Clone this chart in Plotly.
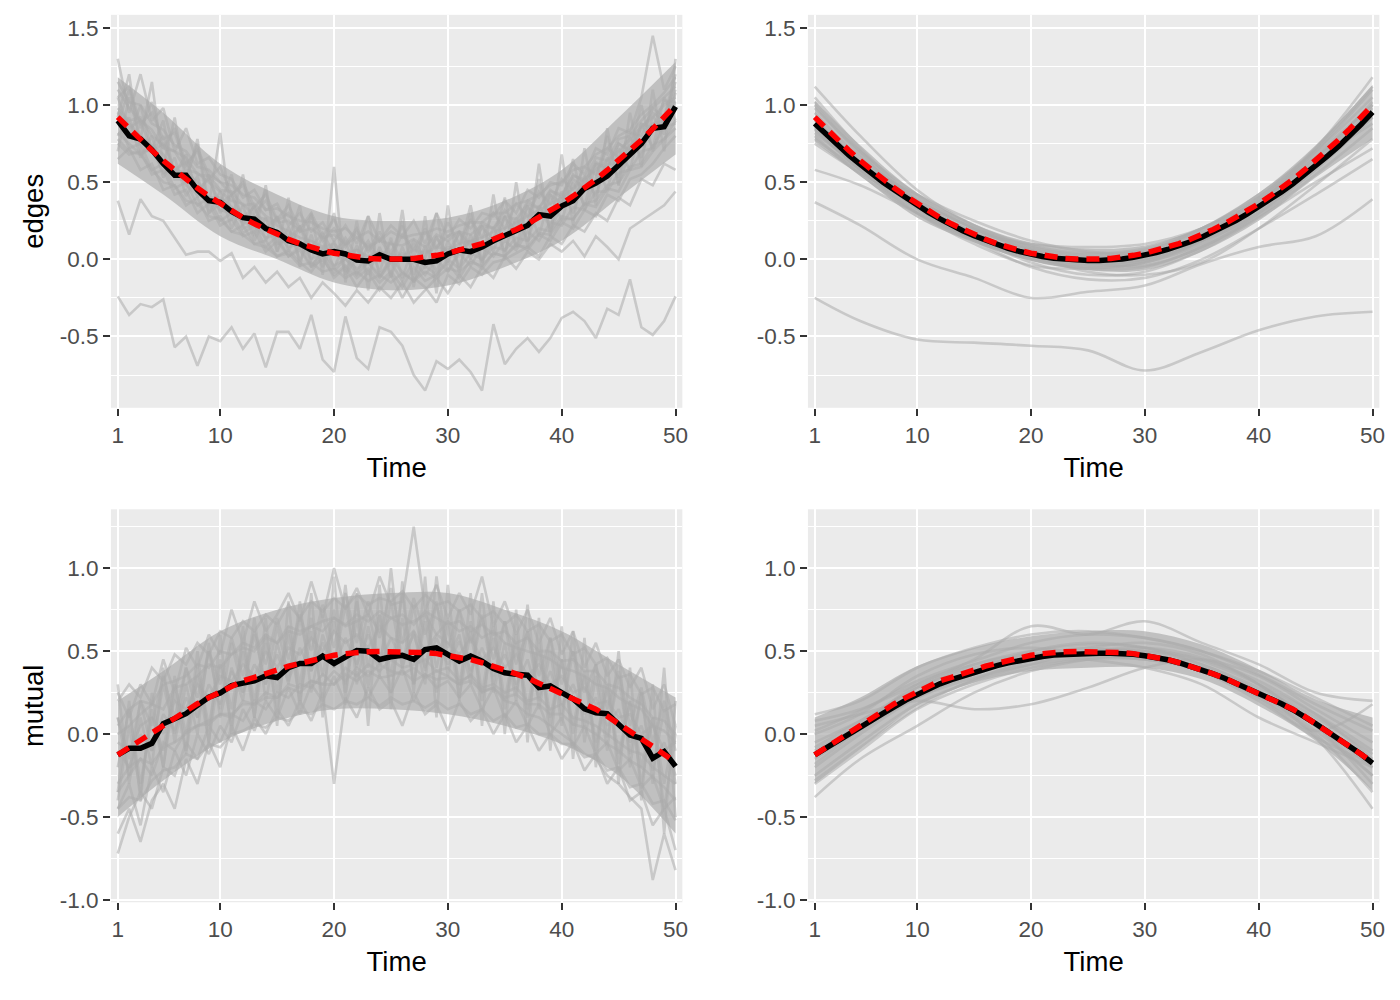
import plotly.graph_objects as go

# ---------------- data ----------------
time = list(range(1, 51))
knots = [1, 5, 10, 15, 20, 25, 30, 35, 40, 45, 50]
x_ticks = [1, 10, 20, 30, 40, 50]
y_ticks_top = [-0.5, 0.0, 0.5, 1.0, 1.5]
y_ticklabels_top = ["-0.5", "0.0", "0.5", "1.0", "1.5"]
y_ticks_bottom = [-1.0, -0.5, 0.0, 0.5, 1.0]
y_ticklabels_bottom = ["-1.0", "-0.5", "0.0", "0.5", "1.0"]
row_labels = ["edges", "mutual"]

# true (red dashed) curves
edges_true = [0.922, 0.846, 0.774, 0.706, 0.640, 0.578, 0.518, 0.462, 0.410, 0.360,
              0.314, 0.270, 0.230, 0.194, 0.160, 0.130, 0.102, 0.078, 0.058, 0.040,
              0.026, 0.014, 0.006, 0.002, 0.000, 0.002, 0.006, 0.014, 0.026, 0.040,
              0.058, 0.078, 0.102, 0.130, 0.160, 0.194, 0.230, 0.270, 0.314, 0.360,
              0.410, 0.462, 0.518, 0.578, 0.640, 0.706, 0.774, 0.846, 0.922, 1.000]
mutual_true = [-0.125, -0.08, -0.04, 0.005, 0.05, 0.095, 0.138, 0.183, 0.22, 0.252,
               0.288, 0.321, 0.342, 0.361, 0.386, 0.41, 0.428, 0.447, 0.461, 0.475,
               0.485, 0.493, 0.496, 0.498, 0.498, 0.497, 0.494, 0.491, 0.485, 0.474,
               0.462, 0.449, 0.43, 0.41, 0.388, 0.363, 0.337, 0.306, 0.278, 0.25,
               0.22, 0.186, 0.15, 0.108, 0.06, 0.01, -0.03, -0.075, -0.12, -0.17]

# estimated mean (black) curves
edges_raw_mean = [0.90, 0.80, 0.78, 0.71, 0.62, 0.545, 0.545, 0.45, 0.38, 0.37,
                  0.31, 0.27, 0.26, 0.20, 0.175, 0.12, 0.10, 0.06, 0.035, 0.05,
                  0.035, -0.005, -0.01, 0.03, 0.0, 0.0, 0.0, -0.02, -0.01, 0.035,
                  0.06, 0.05, 0.08, 0.12, 0.155, 0.19, 0.22, 0.29, 0.28, 0.345,
                  0.38, 0.46, 0.495, 0.54, 0.61, 0.69, 0.75, 0.85, 0.86, 0.99]
edges_smooth_mean = [0.88, 0.81, 0.74, 0.675, 0.615, 0.555, 0.50, 0.45, 0.40, 0.35,
                     0.305, 0.262, 0.222, 0.186, 0.153, 0.123, 0.095, 0.071, 0.051, 0.033,
                     0.019, 0.007, -0.001, -0.006, -0.008, -0.008, -0.005, 0.002, 0.013, 0.027,
                     0.044, 0.064, 0.087, 0.114, 0.144, 0.177, 0.213, 0.252, 0.294, 0.339,
                     0.387, 0.437, 0.490, 0.546, 0.605, 0.667, 0.732, 0.80, 0.875, 0.955]
mutual_raw_mean = [-0.125, -0.086, -0.086, -0.056, 0.063, 0.097, 0.123, 0.173, 0.222, 0.248,
                   0.292, 0.307, 0.321, 0.351, 0.341, 0.40, 0.426, 0.426, 0.47, 0.426,
                   0.466, 0.504, 0.50, 0.45, 0.466, 0.475, 0.45, 0.51, 0.52, 0.48,
                   0.44, 0.47, 0.44, 0.395, 0.37, 0.36, 0.355, 0.28, 0.29, 0.25,
                   0.212, 0.152, 0.129, 0.123, 0.064, -0.006, -0.026, -0.145, -0.105, -0.195]
mutual_smooth_mean = [-0.125, -0.085, -0.045, -0.005, 0.04, 0.083, 0.125, 0.168, 0.205, 0.238,
                      0.272, 0.303, 0.328, 0.35, 0.373, 0.395, 0.413, 0.43, 0.445, 0.458,
                      0.468, 0.476, 0.481, 0.485, 0.487, 0.488, 0.488, 0.486, 0.481, 0.472,
                      0.461, 0.448, 0.43, 0.41, 0.388, 0.363, 0.337, 0.308, 0.279, 0.249,
                      0.217, 0.183, 0.147, 0.107, 0.063, 0.017, -0.028, -0.075, -0.122, -0.175]

# dense core of the overlapping gray series (read at the knots): lower / upper edge
edges_raw_core_lo = [0.62, 0.42, 0.15, 0.00, -0.15, -0.20, -0.17, -0.05, 0.12, 0.40, 0.68]
edges_raw_core_hi = [1.18, 0.95, 0.62, 0.42, 0.28, 0.25, 0.27, 0.38, 0.58, 0.92, 1.28]
edges_smooth_core_lo = [0.76, 0.54, 0.27, 0.11, -0.01, -0.07, -0.07, 0.05, 0.25, 0.53, 0.78]
edges_smooth_core_hi = [1.03, 0.74, 0.43, 0.23, 0.11, 0.07, 0.09, 0.21, 0.43, 0.74, 1.13]
mutual_raw_core_lo = [-0.50, -0.28, -0.05, 0.08, 0.15, 0.15, 0.12, 0.05, -0.06, -0.25, -0.60]
mutual_raw_core_hi = [0.20, 0.38, 0.62, 0.75, 0.82, 0.85, 0.85, 0.75, 0.62, 0.42, 0.22]
mutual_smooth_core_lo = [-0.30, -0.09, 0.17, 0.31, 0.38, 0.40, 0.40, 0.33, 0.17, -0.04, -0.34]
mutual_smooth_core_hi = [0.10, 0.22, 0.41, 0.52, 0.59, 0.62, 0.62, 0.54, 0.39, 0.21, 0.10]

# individual (gray) series, raw edges (values at every time point)
edges_raw_1 = [1.05, 1.12, 0.88, 0.95, 0.78, 0.82, 0.60, 0.72, 0.55, 0.50,
               0.42, 0.48, 0.30, 0.38, 0.25, 0.30, 0.18, 0.28, 0.12, 0.20,
               0.08, 0.18, 0.05, 0.14, 0.02, 0.16, 0.06, 0.20, 0.08, 0.15,
               0.18, 0.10, 0.24, 0.20, 0.32, 0.22, 0.38, 0.33, 0.45, 0.40,
               0.55, 0.50, 0.62, 0.60, 0.75, 0.70, 0.85, 0.95, 0.90, 1.10]
edges_raw_2 = [0.75, 0.68, 0.70, 0.55, 0.58, 0.42, 0.45, 0.30, 0.36, 0.22,
               0.26, 0.15, 0.18, 0.05, 0.12, 0.02, 0.06, -0.05, 0.00, -0.10,
               -0.04, -0.12, -0.06, -0.15, -0.08, -0.18, -0.05, -0.14, -0.10, -0.02,
               -0.12, 0.00, -0.06, 0.04, 0.02, 0.10, 0.06, 0.16, 0.12, 0.24,
               0.20, 0.32, 0.28, 0.42, 0.38, 0.52, 0.55, 0.62, 0.72, 0.80]
edges_raw_3 = [0.95, 0.80, 1.00, 0.70, 0.80, 0.55, 0.68, 0.40, 0.55, 0.30,
               0.42, 0.22, 0.35, 0.12, 0.28, 0.05, 0.22, 0.00, 0.15, -0.06,
               0.12, -0.10, 0.10, -0.08, 0.14, -0.12, 0.10, -0.06, 0.15, -0.02,
               0.18, 0.00, 0.22, 0.05, 0.28, 0.08, 0.35, 0.15, 0.42, 0.25,
               0.50, 0.35, 0.62, 0.45, 0.72, 0.58, 0.88, 0.72, 1.05, 0.90]
edges_raw_4 = [1.30, 0.95, 1.20, 0.90, 0.98, 0.70, 0.85, 0.62, 0.66, 0.55,
               0.52, 0.40, 0.45, 0.32, 0.36, 0.22, 0.30, 0.18, 0.24, 0.12,
               0.22, 0.10, 0.28, 0.12, 0.22, 0.15, 0.25, 0.10, 0.30, 0.14,
               0.26, 0.20, 0.30, 0.28, 0.38, 0.30, 0.45, 0.40, 0.50, 0.48,
               0.62, 0.55, 0.72, 0.68, 0.85, 0.82, 1.05, 1.45, 1.10, 1.25]
edges_raw_5 = [0.65, 0.72, 0.58, 0.62, 0.45, 0.48, 0.35, 0.40, 0.25, 0.28,
               0.18, 0.22, 0.10, 0.12, 0.02, 0.06, -0.02, -0.08, 0.02, -0.12,
               -0.05, -0.18, -0.08, -0.20, -0.10, -0.25, -0.12, -0.18, -0.28, -0.10,
               -0.16, -0.05, -0.10, -0.02, 0.00, 0.04, 0.08, 0.02, 0.15, 0.10,
               0.22, 0.18, 0.30, 0.25, 0.40, 0.35, 0.52, 0.48, 0.62, 0.58]
edges_raw_6 = [0.88, 1.10, 0.85, 1.02, 0.72, 0.85, 0.62, 0.70, 0.52, 0.60,
               0.42, 0.50, 0.34, 0.42, 0.26, 0.35, 0.20, 0.30, 0.15, 0.26,
               0.10, 0.20, 0.06, 0.18, 0.04, 0.22, 0.02, 0.18, 0.06, 0.24,
               0.10, 0.26, 0.14, 0.30, 0.20, 0.36, 0.28, 0.44, 0.36, 0.52,
               0.45, 0.60, 0.55, 0.72, 0.66, 0.82, 0.80, 0.98, 0.92, 1.15]
edges_raw_7 = [0.82, 0.75, 0.68, 0.72, 0.56, 0.60, 0.48, 0.42, 0.40, 0.32,
               0.30, 0.24, 0.22, 0.14, 0.16, 0.08, 0.10, 0.00, 0.04, -0.04,
               0.00, -0.06, -0.02, -0.10, 0.00, -0.08, -0.14, -0.04, -0.10, 0.00,
               -0.06, 0.04, 0.00, 0.08, 0.06, 0.14, 0.12, 0.20, 0.18, 0.28,
               0.26, 0.36, 0.34, 0.46, 0.44, 0.58, 0.60, 0.70, 0.78, 0.85]
edges_raw_8 = [0.70, 1.05, 0.78, 1.15, 0.60, 0.92, 0.50, 0.78, 0.35, 0.82,
               0.25, 0.55, 0.15, 0.48, 0.05, 0.40, -0.05, 0.30, -0.10, 0.60,
               -0.15, 0.25, -0.20, 0.30, -0.12, 0.32, -0.18, 0.28, -0.22, 0.35,
               -0.10, 0.30, -0.05, 0.42, 0.00, 0.50, 0.08, 0.62, 0.15, 0.68,
               0.22, 0.72, 0.35, 0.85, 0.48, 0.95, 0.60, 1.10, 0.70, 1.30]
edges_raw_9 = [0.98, 0.90, 0.92, 0.80, 0.74, 0.70, 0.58, 0.56, 0.50, 0.44,
               0.38, 0.36, 0.28, 0.26, 0.22, 0.18, 0.14, 0.12, 0.08, 0.10,
               0.04, 0.06, 0.02, 0.05, 0.03, 0.02, 0.06, 0.04, 0.08, 0.06,
               0.10, 0.12, 0.14, 0.18, 0.20, 0.24, 0.28, 0.32, 0.36, 0.40,
               0.46, 0.52, 0.58, 0.64, 0.70, 0.78, 0.86, 0.92, 1.00, 1.05]
edges_raw_10 = [-0.24, -0.36, -0.29, -0.31, -0.26, -0.57, -0.50, -0.69, -0.50, -0.53,
                -0.44, -0.58, -0.48, -0.70, -0.47, -0.47, -0.58, -0.36, -0.65, -0.73,
                -0.37, -0.64, -0.71, -0.44, -0.47, -0.56, -0.75, -0.85, -0.66, -0.71,
                -0.65, -0.73, -0.85, -0.42, -0.68, -0.58, -0.51, -0.60, -0.51, -0.38,
                -0.34, -0.40, -0.51, -0.32, -0.36, -0.13, -0.44, -0.49, -0.40, -0.24]
edges_raw_11 = [0.38, 0.16, 0.39, 0.28, 0.25, 0.14, 0.03, 0.05, 0.05, -0.01,
                0.04, -0.12, -0.05, -0.15, -0.08, -0.18, -0.12, -0.25, -0.15, -0.22,
                -0.30, -0.20, -0.28, -0.18, -0.25, -0.15, -0.28, -0.20, -0.12, -0.22,
                -0.10, -0.18, -0.05, -0.12, 0.02, -0.06, 0.05, 0.00, 0.10, 0.05,
                0.12, 0.02, 0.15, 0.08, 0.00, 0.20, 0.25, 0.30, 0.35, 0.44]
edges_raw_12 = [1.05, 0.85, 0.90, 0.70, 0.75, 0.58, 0.63, 0.45, 0.52, 0.36,
                0.42, 0.27, 0.34, 0.20, 0.27, 0.13, 0.21, 0.08, 0.17, 0.04,
                0.14, 0.02, 0.12, -0.01, 0.11, 0.00, 0.12, 0.01, 0.14, 0.04,
                0.17, 0.08, 0.21, 0.13, 0.27, 0.19, 0.34, 0.27, 0.42, 0.36,
                0.52, 0.46, 0.63, 0.58, 0.75, 0.71, 0.88, 0.85, 1.03, 1.02]
edges_raw_13 = [0.80, 0.92, 0.66, 0.80, 0.53, 0.66, 0.41, 0.54, 0.30, 0.44,
                0.20, 0.35, 0.12, 0.27, 0.05, 0.21, -0.01, 0.16, -0.05, 0.12,
                -0.08, 0.09, -0.10, 0.08, -0.11, 0.08, -0.10, 0.09, -0.08, 0.12,
                -0.05, 0.16, -0.01, 0.21, 0.05, 0.27, 0.12, 0.35, 0.20, 0.44,
                0.30, 0.54, 0.41, 0.66, 0.53, 0.79, 0.66, 0.93, 0.81, 1.08]
edges_raw_14 = [1.10, 0.98, 0.90, 0.84, 0.72, 0.70, 0.66, 0.55, 0.54, 0.45,
                0.44, 0.35, 0.36, 0.28, 0.24, 0.25, 0.18, 0.20, 0.14, 0.16,
                0.10, 0.14, 0.08, 0.12, 0.10, 0.09, 0.13, 0.08, 0.16, 0.12,
                0.18, 0.16, 0.22, 0.20, 0.28, 0.26, 0.36, 0.33, 0.44, 0.42,
                0.54, 0.52, 0.66, 0.64, 0.78, 0.80, 0.90, 0.98, 1.05, 1.12]
edges_raw_15 = [0.78, 0.70, 0.68, 0.58, 0.50, 0.48, 0.38, 0.36, 0.28, 0.26,
                0.18, 0.16, 0.10, 0.08, 0.02, 0.04, -0.04, -0.02, -0.08, -0.06,
                -0.12, -0.08, -0.14, -0.10, -0.15, -0.09, -0.14, -0.08, -0.12, -0.06,
                -0.08, -0.02, -0.04, 0.04, 0.02, 0.09, 0.08, 0.17, 0.16, 0.26,
                0.26, 0.36, 0.38, 0.48, 0.50, 0.60, 0.62, 0.74, 0.78, 0.90]
edges_raw_16 = [0.92, 1.20, 0.70, 0.71, 0.90, 0.52, 0.52, 0.75, 0.30, 0.36,
                0.55, 0.20, 0.23, 0.45, 0.10, 0.13, 0.35, -0.05, 0.06, 0.30,
                -0.10, 0.01, 0.28, -0.12, 0.00, 0.25, -0.15, 0.01, 0.30, -0.08,
                0.06, 0.35, -0.02, 0.13, 0.40, 0.08, 0.23, 0.52, 0.18, 0.36,
                0.65, 0.32, 0.52, 0.80, 0.48, 0.71, 1.00, 0.70, 0.92, 1.20]
edges_raw_17 = [0.96, 0.88, 0.80, 0.74, 0.68, 0.58, 0.56, 0.50, 0.40, 0.40,
                0.34, 0.28, 0.26, 0.20, 0.18, 0.16, 0.10, 0.12, 0.06, 0.08,
                0.02, 0.06, 0.00, 0.05, -0.02, 0.04, 0.00, 0.06, 0.02, 0.08,
                0.05, 0.12, 0.10, 0.14, 0.16, 0.20, 0.22, 0.30, 0.30, 0.38,
                0.40, 0.50, 0.50, 0.62, 0.62, 0.74, 0.76, 0.88, 0.90, 1.02]
edges_raw_18 = [1.15, 1.02, 1.00, 0.88, 0.84, 0.74, 0.70, 0.60, 0.58, 0.50,
                0.48, 0.42, 0.40, 0.32, 0.33, 0.28, 0.25, 0.24, 0.20, 0.18,
                0.20, 0.14, 0.18, 0.12, 0.18, 0.14, 0.16, 0.17, 0.20, 0.18,
                0.22, 0.24, 0.24, 0.30, 0.30, 0.36, 0.38, 0.42, 0.48, 0.50,
                0.58, 0.60, 0.68, 0.72, 0.80, 0.84, 0.94, 1.00, 1.08, 1.18]
edges_raw_19 = [0.90, 0.72, 0.75, 0.58, 0.62, 0.46, 0.50, 0.35, 0.40, 0.25,
                0.30, 0.17, 0.22, 0.08, 0.15, 0.02, 0.08, -0.04, 0.04, -0.08,
                0.01, -0.10, -0.02, -0.12, -0.02, -0.14, -0.01, -0.10, 0.00, -0.08,
                0.04, -0.04, 0.08, 0.02, 0.12, 0.06, 0.18, 0.12, 0.24, 0.22,
                0.34, 0.32, 0.44, 0.44, 0.56, 0.58, 0.70, 0.72, 0.86, 0.88]

# individual smoothed edges (values read at the knots)
edges_smooth_1 = [1.12, 0.80, 0.45, 0.22, 0.08, 0.03, 0.06, 0.18, 0.38, 0.72, 1.18]
edges_smooth_2 = [0.80, 0.55, 0.30, 0.12, 0.00, -0.06, -0.05, 0.08, 0.28, 0.55, 0.85]
edges_smooth_3 = [0.95, 0.66, 0.40, 0.20, 0.06, 0.01, 0.05, 0.20, 0.42, 0.70, 1.05]
edges_smooth_4 = [0.75, 0.56, 0.36, 0.17, 0.03, -0.08, -0.10, -0.02, 0.20, 0.48, 0.78]
edges_smooth_5 = [1.05, 0.72, 0.38, 0.15, 0.02, -0.03, 0.00, 0.12, 0.33, 0.64, 1.02]
edges_smooth_6 = [0.88, 0.62, 0.42, 0.25, 0.12, 0.05, 0.04, 0.12, 0.30, 0.58, 0.92]
edges_smooth_7 = [0.92, 0.63, 0.33, 0.13, 0.03, -0.01, 0.03, 0.16, 0.40, 0.72, 1.12]
edges_smooth_8 = [0.82, 0.60, 0.34, 0.14, -0.02, -0.10, -0.08, 0.06, 0.27, 0.50, 0.72]
edges_smooth_9 = [1.00, 0.68, 0.37, 0.18, 0.10, 0.08, 0.10, 0.20, 0.38, 0.66, 0.95]
edges_smooth_10 = [0.85, 0.58, 0.30, 0.10, -0.04, -0.06, -0.02, 0.10, 0.32, 0.62, 0.98]
edges_smooth_11 = [-0.25, -0.40, -0.52, -0.54, -0.56, -0.59, -0.72, -0.60, -0.46, -0.37, -0.34]
edges_smooth_12 = [0.37, 0.22, 0.00, -0.12, -0.25, -0.21, -0.17, -0.03, 0.08, 0.15, 0.39]
edges_smooth_13 = [0.58, 0.48, 0.30, 0.12, -0.05, -0.13, -0.12, 0.00, 0.20, 0.42, 0.65]
edges_smooth_14 = [0.98, 0.70, 0.42, 0.22, 0.09, 0.04, 0.07, 0.20, 0.40, 0.68, 1.00]
edges_smooth_15 = [0.86, 0.60, 0.34, 0.15, 0.03, -0.02, 0.00, 0.13, 0.34, 0.62, 0.92]
edges_smooth_16 = [0.78, 0.58, 0.38, 0.20, 0.06, -0.02, -0.04, 0.08, 0.30, 0.60, 0.95]
edges_smooth_17 = [1.02, 0.70, 0.36, 0.14, 0.00, -0.05, -0.02, 0.12, 0.36, 0.70, 1.10]
edges_smooth_18 = [0.90, 0.64, 0.38, 0.20, 0.07, 0.02, 0.04, 0.16, 0.37, 0.66, 1.00]
edges_smooth_19 = [0.84, 0.58, 0.32, 0.13, 0.01, -0.04, -0.01, 0.12, 0.35, 0.64, 0.88]

# individual raw mutual
mutual_raw_1 = [0.10, -0.15, 0.20, 0.05, 0.35, 0.10, 0.40, 0.22, 0.50, 0.30,
                0.58, 0.35, 0.62, 0.42, 0.70, 0.45, 0.72, 0.50, 0.78, 0.52,
                0.85, 0.55, 0.80, 0.58, 0.88, 0.55, 0.82, 0.60, 0.78, 0.52,
                0.75, 0.55, 0.70, 0.45, 0.68, 0.42, 0.62, 0.35, 0.58, 0.30,
                0.50, 0.25, 0.42, 0.15, 0.38, 0.05, 0.28, -0.05, 0.20, -0.10]
mutual_raw_2 = [-0.45, -0.30, -0.55, -0.20, -0.35, -0.10, -0.25, 0.00, -0.12, 0.05,
                -0.05, 0.15, 0.02, 0.20, 0.10, 0.28, 0.12, 0.30, 0.20, 0.35,
                0.18, 0.38, 0.22, 0.35, 0.25, 0.40, 0.20, 0.36, 0.28, 0.32,
                0.22, 0.30, 0.15, 0.28, 0.10, 0.20, 0.05, 0.18, 0.00, 0.10,
                -0.08, 0.05, -0.12, -0.05, -0.22, -0.15, -0.32, -0.25, -0.45, -0.38]
mutual_raw_3 = [-0.20, 0.15, -0.30, 0.10, -0.10, 0.30, 0.00, 0.40, 0.05, 0.45,
                0.15, 0.55, 0.20, 0.60, 0.25, 0.65, 0.30, 0.70, 0.35, 0.75,
                0.30, 0.80, 0.40, 0.72, 0.35, 0.85, 0.30, 0.75, 0.40, 0.70,
                0.30, 0.68, 0.25, 0.65, 0.20, 0.60, 0.15, 0.55, 0.10, 0.45,
                0.05, 0.38, -0.05, 0.30, -0.12, 0.20, -0.20, 0.10, -0.30, 0.05]
mutual_raw_4 = [0.25, 0.10, 0.30, 0.18, 0.45, 0.25, 0.52, 0.40, 0.60, 0.48,
                0.75, 0.55, 0.80, 0.62, 0.72, 0.85, 0.68, 0.92, 0.70, 1.00,
                0.75, 0.88, 0.72, 0.95, 0.78, 0.80, 1.25, 0.75, 0.90, 0.70,
                0.85, 0.72, 0.95, 0.65, 0.80, 0.60, 0.75, 0.55, 0.70, 0.48,
                0.62, 0.40, 0.55, 0.35, 0.45, 0.28, 0.40, 0.15, 0.30, 0.05]
mutual_raw_5 = [-0.60, -0.45, -0.65, -0.40, -0.30, -0.45, -0.15, -0.30, -0.05, -0.20,
                0.05, -0.10, 0.10, 0.00, 0.15, 0.05, 0.20, 0.08, 0.25, -0.30,
                0.22, 0.10, 0.28, 0.15, 0.20, 0.05, 0.25, 0.12, 0.18, 0.02,
                0.20, 0.08, 0.15, 0.00, 0.12, -0.05, 0.05, -0.10, 0.00, -0.15,
                -0.05, -0.22, -0.12, -0.30, -0.20, -0.40, -0.35, -0.55, -0.45, -0.70]
mutual_raw_6 = [-0.05, -0.10, 0.05, 0.10, 0.00, 0.20, 0.15, 0.30, 0.22, 0.35,
                0.32, 0.42, 0.35, 0.50, 0.40, 0.52, 0.48, 0.58, 0.50, 0.62,
                0.55, 0.60, 0.52, 0.65, 0.58, 0.55, 0.62, 0.50, 0.60, 0.55,
                0.48, 0.58, 0.45, 0.52, 0.40, 0.48, 0.35, 0.42, 0.30, 0.35,
                0.25, 0.28, 0.18, 0.20, 0.10, 0.12, 0.00, 0.05, -0.10, -0.05]
mutual_raw_7 = [-0.35, 0.20, -0.40, 0.25, -0.20, 0.35, -0.10, 0.50, -0.05, 0.60,
                0.00, 0.65, 0.10, 0.70, 0.05, 0.80, 0.15, 0.85, 0.10, 0.95,
                0.20, 0.85, 0.05, 0.90, 0.15, 0.92, 0.25, 0.95, 0.10, 0.90,
                0.20, 0.85, 0.05, 0.80, 0.00, 0.75, -0.05, 0.70, -0.10, 0.65,
                -0.15, 0.58, -0.20, 0.45, -0.30, 0.40, -0.40, 0.30, -0.60, 0.20]
mutual_raw_8 = [-0.30, -0.20, -0.15, -0.25, -0.05, -0.10, 0.02, 0.05, 0.08, 0.12,
                0.10, 0.20, 0.18, 0.25, 0.22, 0.30, 0.28, 0.32, 0.30, 0.38,
                0.32, 0.40, 0.35, 0.42, 0.38, 0.36, 0.40, 0.34, 0.38, 0.35,
                0.30, 0.36, 0.28, 0.30, 0.25, 0.28, 0.20, 0.22, 0.15, 0.18,
                0.10, 0.08, 0.05, 0.00, -0.05, -0.10, -0.12, -0.20, -0.25, -0.30]
mutual_raw_9 = [0.00, 0.05, 0.12, 0.18, 0.15, 0.28, 0.30, 0.35, 0.42, 0.40,
                0.48, 0.52, 0.50, 0.58, 0.55, 0.62, 0.60, 0.65, 0.62, 0.70,
                0.65, 0.68, 0.72, 0.62, 0.70, 0.66, 0.68, 0.72, 0.60, 0.68,
                0.62, 0.65, 0.58, 0.62, 0.55, 0.52, 0.50, 0.48, 0.45, 0.40,
                0.38, 0.35, 0.30, 0.28, 0.22, 0.18, 0.15, 0.05, 0.02, -0.05]
mutual_raw_10 = [-0.72, -0.50, -0.35, -0.45, -0.20, -0.25, -0.05, -0.15, 0.05, -0.05,
                 0.12, 0.08, 0.20, 0.15, 0.25, 0.22, 0.30, 0.28, 0.36, 0.30,
                 0.40, 0.35, 0.42, 0.38, 0.45, 0.40, 0.42, 0.45, 0.38, 0.40,
                 0.32, 0.35, 0.25, 0.28, 0.20, 0.18, 0.12, 0.10, 0.05, 0.00,
                 -0.05, -0.12, -0.15, -0.25, -0.30, -0.38, -0.45, -0.88, -0.60, -0.82]
mutual_raw_11 = [0.20, 0.30, 0.22, 0.40, 0.32, 0.48, 0.42, 0.55, 0.48, 0.62,
                 0.58, 0.68, 0.62, 0.72, 0.66, 0.78, 0.70, 0.80, 0.74, 0.82,
                 0.76, 0.84, 0.78, 0.82, 0.80, 0.86, 0.76, 0.84, 0.78, 0.80,
                 0.74, 0.78, 0.70, 0.74, 0.66, 0.72, 0.62, 0.66, 0.56, 0.60,
                 0.48, 0.52, 0.42, 0.46, 0.34, 0.36, 0.24, 0.28, 0.14, 0.18]
mutual_raw_12 = [-0.45, -0.38, -0.40, -0.28, -0.22, -0.20, -0.12, -0.15, -0.06, -0.08,
                 0.00, 0.02, 0.06, 0.04, 0.10, 0.08, 0.14, 0.12, 0.18, 0.15,
                 0.20, 0.18, 0.22, 0.17, 0.22, 0.18, 0.20, 0.16, 0.20, 0.15,
                 0.18, 0.12, 0.15, 0.08, 0.12, 0.04, 0.06, 0.00, 0.00, -0.06,
                 -0.06, -0.14, -0.12, -0.22, -0.20, -0.32, -0.30, -0.42, -0.40, -0.52]
mutual_raw_13 = [0.10, -0.25, 0.20, -0.10, 0.30, 0.00, 0.40, 0.10, 0.50, 0.15,
                 0.55, 0.25, 0.60, 0.30, 0.65, 0.35, 0.70, 0.38, 0.72, 0.40,
                 0.78, 0.40, 0.75, 0.42, 0.80, 0.40, 0.78, 0.38, 0.80, 0.35,
                 0.75, 0.35, 0.72, 0.30, 0.68, 0.25, 0.62, 0.20, 0.58, 0.12,
                 0.50, 0.05, 0.42, -0.02, 0.35, -0.12, 0.25, -0.22, 0.15, -0.30]
mutual_raw_14 = [-0.40, 0.05, -0.35, 0.15, -0.20, 0.25, -0.12, 0.35, -0.05, 0.42,
                 0.05, 0.50, 0.10, 0.55, 0.15, 0.60, 0.20, 0.62, 0.22, 0.68,
                 0.25, 0.70, 0.28, 0.72, 0.25, 0.70, 0.30, 0.68, 0.25, 0.65,
                 0.22, 0.62, 0.20, 0.58, 0.15, 0.55, 0.10, 0.50, 0.05, 0.45,
                 0.00, 0.35, -0.10, 0.28, -0.18, 0.20, -0.30, 0.10, -0.45, 0.00]
mutual_raw_15 = [0.05, 0.15, 0.20, 0.18, 0.30, 0.32, 0.35, 0.42, 0.40, 0.50,
                 0.48, 0.55, 0.52, 0.60, 0.55, 0.65, 0.62, 0.65, 0.68, 0.70,
                 0.66, 0.72, 0.68, 0.74, 0.70, 0.72, 0.66, 0.74, 0.70, 0.66,
                 0.68, 0.62, 0.66, 0.60, 0.62, 0.55, 0.58, 0.50, 0.50, 0.44,
                 0.45, 0.38, 0.38, 0.30, 0.28, 0.22, 0.18, 0.10, 0.08, 0.00]
mutual_raw_16 = [-0.35, -0.25, -0.15, -0.18, -0.08, -0.05, 0.00, 0.05, 0.06, 0.12,
                 0.12, 0.18, 0.18, 0.22, 0.22, 0.28, 0.25, 0.32, 0.30, 0.30,
                 0.36, 0.32, 0.38, 0.34, 0.35, 0.38, 0.32, 0.36, 0.33, 0.34,
                 0.30, 0.32, 0.26, 0.28, 0.22, 0.24, 0.18, 0.18, 0.12, 0.12,
                 0.06, 0.04, 0.00, -0.06, -0.10, -0.16, -0.20, -0.26, -0.32, -0.40]
mutual_raw_17 = [-0.10, -0.20, 0.00, -0.10, 0.12, 0.02, 0.22, 0.10, 0.30, 0.18,
                 0.38, 0.25, 0.42, 0.30, 0.48, 0.32, 0.52, 0.38, 0.55, 0.40,
                 0.58, 0.42, 0.60, 0.42, 0.58, 0.45, 0.60, 0.40, 0.58, 0.42,
                 0.56, 0.38, 0.52, 0.35, 0.48, 0.30, 0.45, 0.22, 0.38, 0.18,
                 0.30, 0.12, 0.22, 0.05, 0.15, -0.05, 0.05, -0.15, -0.05, -0.25]
mutual_raw_18 = [0.30, -0.30, 0.10, -0.20, 0.40, -0.05, 0.30, 0.00, 0.55, 0.10,
                 0.40, 0.20, 0.70, 0.20, 0.55, 0.30, 0.80, 0.25, 0.60, 0.40,
                 0.90, 0.30, 0.65, 0.35, 1.00, 0.40, 0.62, 0.30, 0.95, 0.45,
                 0.60, 0.30, 0.85, 0.25, 0.55, 0.20, 0.78, 0.15, 0.50, 0.05,
                 0.62, -0.05, 0.35, -0.10, 0.50, -0.20, 0.25, -0.30, 0.40, -0.50]

# individual smoothed mutual (values at the knots)
mutual_smooth_1 = [0.12, 0.20, 0.40, 0.52, 0.60, 0.62, 0.58, 0.50, 0.38, 0.22, 0.05]
mutual_smooth_2 = [-0.30, -0.10, 0.15, 0.30, 0.40, 0.45, 0.45, 0.38, 0.22, 0.00, -0.35]
mutual_smooth_3 = [-0.05, 0.08, 0.25, 0.38, 0.50, 0.55, 0.52, 0.42, 0.28, 0.10, -0.12]
mutual_smooth_4 = [0.05, 0.12, 0.20, 0.15, 0.18, 0.28, 0.40, 0.45, 0.35, 0.15, -0.05]
mutual_smooth_5 = [-0.20, 0.00, 0.22, 0.36, 0.46, 0.52, 0.55, 0.48, 0.30, 0.05, -0.25]
mutual_smooth_6 = [-0.38, -0.15, 0.05, 0.25, 0.38, 0.45, 0.48, 0.40, 0.25, -0.02, -0.45]
mutual_smooth_7 = [0.08, 0.15, 0.30, 0.45, 0.65, 0.60, 0.68, 0.55, 0.42, 0.25, 0.20]
mutual_smooth_8 = [-0.12, 0.05, 0.30, 0.42, 0.48, 0.45, 0.40, 0.30, 0.10, -0.05, -0.20]
mutual_smooth_9 = [-0.25, -0.05, 0.18, 0.32, 0.42, 0.50, 0.50, 0.45, 0.32, 0.12, -0.15]
mutual_smooth_10 = [0.00, 0.12, 0.35, 0.48, 0.52, 0.48, 0.45, 0.40, 0.22, 0.02, 0.18]
mutual_smooth_11 = [-0.15, 0.03, 0.25, 0.38, 0.46, 0.50, 0.50, 0.42, 0.26, 0.05, -0.20]
mutual_smooth_12 = [-0.08, 0.08, 0.28, 0.42, 0.50, 0.54, 0.52, 0.44, 0.30, 0.12, -0.10]
mutual_smooth_13 = [-0.28, -0.08, 0.16, 0.33, 0.44, 0.50, 0.52, 0.46, 0.30, 0.05, -0.30]
mutual_smooth_14 = [0.02, 0.14, 0.32, 0.44, 0.55, 0.60, 0.58, 0.50, 0.36, 0.18, 0.02]
mutual_smooth_15 = [-0.18, 0.02, 0.22, 0.34, 0.42, 0.46, 0.46, 0.40, 0.24, 0.02, -0.25]
mutual_smooth_16 = [-0.10, 0.06, 0.28, 0.40, 0.48, 0.52, 0.48, 0.38, 0.20, -0.02, -0.18]

edges_raw_gray = [edges_raw_1, edges_raw_2, edges_raw_3, edges_raw_4, edges_raw_5, edges_raw_6,
                  edges_raw_7, edges_raw_8, edges_raw_9, edges_raw_10, edges_raw_11, edges_raw_12,
                  edges_raw_13, edges_raw_14, edges_raw_15, edges_raw_16, edges_raw_17,
                  edges_raw_18, edges_raw_19]
edges_smooth_gray = [edges_smooth_1, edges_smooth_2, edges_smooth_3, edges_smooth_4, edges_smooth_5,
                     edges_smooth_6, edges_smooth_7, edges_smooth_8, edges_smooth_9, edges_smooth_10,
                     edges_smooth_11, edges_smooth_12, edges_smooth_13, edges_smooth_14,
                     edges_smooth_15, edges_smooth_16, edges_smooth_17, edges_smooth_18,
                     edges_smooth_19]
mutual_raw_gray = [mutual_raw_1, mutual_raw_2, mutual_raw_3, mutual_raw_4, mutual_raw_5,
                   mutual_raw_6, mutual_raw_7, mutual_raw_8, mutual_raw_9, mutual_raw_10,
                   mutual_raw_11, mutual_raw_12, mutual_raw_13, mutual_raw_14, mutual_raw_15,
                   mutual_raw_16, mutual_raw_17, mutual_raw_18]
mutual_smooth_gray = [mutual_smooth_1, mutual_smooth_2, mutual_smooth_3, mutual_smooth_4,
                      mutual_smooth_5, mutual_smooth_6, mutual_smooth_7, mutual_smooth_8,
                      mutual_smooth_9, mutual_smooth_10, mutual_smooth_11, mutual_smooth_12,
                      mutual_smooth_13, mutual_smooth_14, mutual_smooth_15, mutual_smooth_16]

# ---------------- styling ----------------
FONT = "Liberation Sans, Arial, Helvetica, sans-serif"
GRAY = "rgba(172,172,172,0.55)"
CORE = "rgba(178,178,178,0.75)"
W, H = 1400, 1000
# panel pixel boxes: (left, right, top, bottom)
panels = {
    1: (111.4, 685.3, 15.0, 412.3),
    2: (811.4, 1385.3, 15.0, 412.3),
    3: (111.4, 685.3, 515.0, 912.3),
    4: (811.4, 1385.3, 515.0, 912.3),
}

fig = go.Figure()


def add_panel(idx, core_lo, core_hi, gray, gray_x, spline, mean, truth):
    xa = "x" if idx == 1 else f"x{idx}"
    ya = "y" if idx == 1 else f"y{idx}"
    # dense overlap of the individual series
    fig.add_trace(go.Scatter(
        x=knots, y=core_lo, mode="lines", xaxis=xa, yaxis=ya, showlegend=False,
        hoverinfo="skip", line=dict(width=0, shape="spline", color=CORE)))
    fig.add_trace(go.Scatter(
        x=knots, y=core_hi, mode="lines", xaxis=xa, yaxis=ya, showlegend=False,
        hoverinfo="skip", fill="tonexty", fillcolor=CORE,
        line=dict(width=0, shape="spline", color=CORE)))
    for g in gray:
        fig.add_trace(go.Scatter(
            x=gray_x, y=g, mode="lines", xaxis=xa, yaxis=ya, showlegend=False,
            hoverinfo="skip",
            line=dict(color=GRAY, width=2.6, shape="spline" if spline else "linear", smoothing=1.0)))
    fig.add_trace(go.Scatter(
        x=time, y=mean, mode="lines", xaxis=xa, yaxis=ya, showlegend=False,
        line=dict(color="black", width=5.5)))
    fig.add_trace(go.Scatter(
        x=time, y=truth, mode="lines", xaxis=xa, yaxis=ya, showlegend=False,
        line=dict(color="#FF0000", width=5.5, dash="13px,8px")))


add_panel(1, edges_raw_core_lo, edges_raw_core_hi, edges_raw_gray, time, False,
          edges_raw_mean, edges_true)
add_panel(2, edges_smooth_core_lo, edges_smooth_core_hi, edges_smooth_gray, knots, True,
          edges_smooth_mean, edges_true)
add_panel(3, mutual_raw_core_lo, mutual_raw_core_hi, mutual_raw_gray, time, False,
          mutual_raw_mean, mutual_true)
add_panel(4, mutual_smooth_core_lo, mutual_smooth_core_hi, mutual_smooth_gray, knots, True,
          mutual_smooth_mean, mutual_true)

layout = dict(
    width=W, height=H,
    margin=dict(l=0, r=0, t=0, b=0),
    paper_bgcolor="white",
    plot_bgcolor="#EBEBEB",
    font=dict(family=FONT),
    showlegend=False,
)

for idx, (l, r, t, b) in panels.items():
    xkey = "xaxis" if idx == 1 else f"xaxis{idx}"
    ykey = "yaxis" if idx == 1 else f"yaxis{idx}"
    xa = "x" if idx == 1 else f"x{idx}"
    ya = "y" if idx == 1 else f"y{idx}"
    top_row = idx in (1, 2)
    layout[xkey] = dict(
        domain=[l / W, r / W], anchor=ya, range=[0.4, 50.6],
        tickmode="array", tickvals=x_ticks, ticktext=[str(v) for v in x_ticks],
        showgrid=True, gridcolor="white", gridwidth=2.2, zeroline=False, showline=False,
        ticks="outside", ticklen=7, tickwidth=2.2, tickcolor="#333333",
        tickfont=dict(size=22.5, color="#4D4D4D", family=FONT),
        title=dict(text="Time", font=dict(size=27.5, color="black", family=FONT), standoff=10),
    )
    if top_row:
        yr, yt, ytt = [-0.962, 1.585], y_ticks_top, y_ticklabels_top
    else:
        yr, yt, ytt = [-1.014, 1.355], y_ticks_bottom, y_ticklabels_bottom
    ycfg = dict(
        domain=[1 - b / H, 1 - t / H], anchor=xa, range=yr,
        tickmode="array", tickvals=yt, ticktext=ytt,
        showgrid=True, gridcolor="white", gridwidth=2.2, zeroline=False, showline=False,
        ticks="outside", ticklen=7, tickwidth=2.2, tickcolor="#333333",
        tickfont=dict(size=22.5, color="#4D4D4D", family=FONT),
        minor=dict(tickmode="array", tickvals=[-0.75, -0.25, 0.25, 0.75, 1.25],
                   showgrid=True, gridcolor="white", gridwidth=1.1, ticks=""),
    )
    if idx in (1, 3):
        ycfg["title"] = dict(text=row_labels[0] if idx == 1 else row_labels[1],
                             font=dict(size=27.5, color="black", family=FONT), standoff=8)
    layout[ykey] = ycfg

fig.update_layout(**layout)
fig.write_html("out.html")
